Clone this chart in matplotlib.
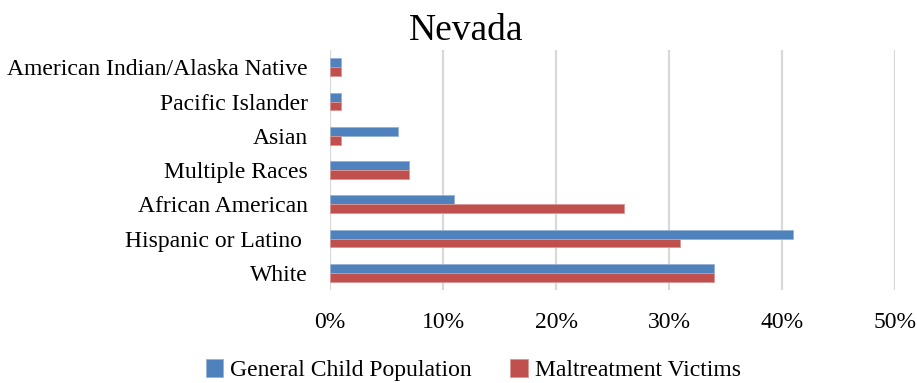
import numpy as np
import matplotlib
matplotlib.use('Agg')
import matplotlib.pyplot as plt
from matplotlib.ticker import FuncFormatter

# races listed bottom to top
races = ["White", "Hispanic or Latino ", "African American", "Multiple Races",
         "Asian", "Pacific Islander", "American Indian/Alaska Native"]
general_pop = [34, 41, 11, 7, 6, 1, 1]
victims = [34, 31, 26, 7, 1, 1, 1]

plt.rcParams['font.family'] = ['Liberation Serif', 'DejaVu Serif']

fig = plt.figure(figsize=(9.17, 3.83), dpi=100)
ax = fig.add_axes([0.36, 0.243, 0.616, 0.626])

y = np.arange(len(races))
h = 0.26
ax.barh(y + h / 2, general_pop, height=h, color='#4F81BD', edgecolor='#95B3D7',
        linewidth=0.6, label='General Child Population', zorder=3)
ax.barh(y - h / 2, victims, height=h, color='#C0504D', edgecolor='#D99694',
        linewidth=0.6, label='Maltreatment Victims', zorder=3)

ax.set_xlim(0, 50)
ax.set_ylim(-0.5, len(races) - 0.5)
ax.set_xticks(range(0, 51, 10))
ax.xaxis.set_major_formatter(FuncFormatter(lambda v, p: f"{v:.0f}%"))
ax.set_yticks(y)
ax.set_yticklabels(races)
ax.tick_params(length=0, labelsize=17, colors='black')
ax.tick_params(axis='x', pad=16)
ax.tick_params(axis='y', pad=16)
ax.grid(axis='x', color='#D9D9D9', linewidth=1.6, zorder=0)
for s in ax.spines.values():
    s.set_visible(False)

fig.text(0.508, 0.92, "Nevada", fontsize=27, ha='center', va='center')

fig.legend(loc='center', bbox_to_anchor=(0.516, 0.033), ncol=2, frameon=False,
           fontsize=17, handlelength=0.75, handleheight=0.75, handletextpad=0.3,
           columnspacing=1.6)

plt.savefig("out.png", dpi=100)
